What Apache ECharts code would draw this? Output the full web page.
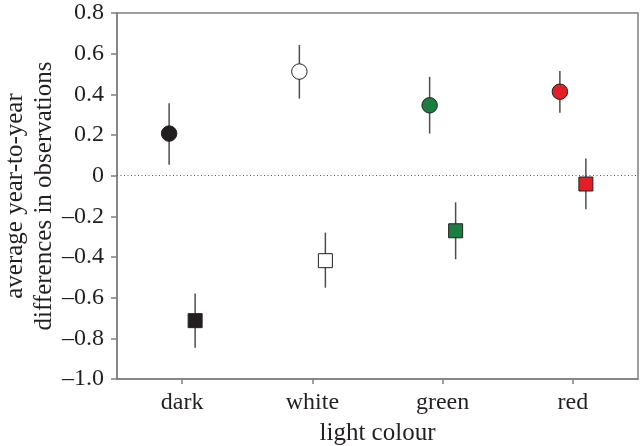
<!DOCTYPE html>
<html>
<head>
<meta charset="utf-8">
<script src="https://cdn.jsdelivr.net/npm/echarts@6/dist/echarts.min.js"></script>
<style>
html,body{margin:0;padding:0;background:#fff;}
#chart{width:640px;height:446px;}
</style>
</head>
<body>
<div id="chart"></div>
<script>
// ---- data ----
const categories = ['dark', 'white', 'green', 'red'];
const circleMean = [0.207, 0.512, 0.346, 0.413];
const circleLow  = [0.054, 0.379, 0.207, 0.310];
const circleHigh = [0.356, 0.643, 0.486, 0.515];
const squareMean = [-0.713, -0.418, -0.271, -0.041];
const squareLow  = [-0.846, -0.551, -0.411, -0.165];
const squareHigh = [-0.580, -0.280, -0.131, 0.084];
const yTicks = [-1.0, -0.8, -0.6, -0.4, -0.2, 0, 0.2, 0.4, 0.6, 0.8];

// ---- styling ----
const pointColours = ['#231f20', '#ffffff', '#1b7d3f', '#e31e26'];
const FONT = '"Liberation Serif", "Times New Roman", serif';
const TXT = '#231f20';
const AX = '#808080';
const DODGE = 13;

const chart = echarts.init(document.getElementById('chart'), null, {renderer: 'canvas'});

function errorSeries(low, high, off) {
  return {
    type: 'custom',
    z: 1,
    silent: true,
    data: categories.map((c, i) => [i, low[i], high[i]]),
    encode: {x: 0, y: [1, 2]},
    renderItem: function (params, api) {
      const i = api.value(0);
      const a = api.coord([i, api.value(1)]);
      const b = api.coord([i, api.value(2)]);
      return {
        type: 'line',
        shape: {x1: a[0] + off, y1: a[1], x2: b[0] + off, y2: b[1]},
        style: {stroke: '#4d4d4d', lineWidth: 1.5}
      };
    }
  };
}

function pointData(vals) {
  return vals.map((v, i) => ({
    value: [i, v],
    itemStyle: {color: pointColours[i]}
  }));
}

const option = {
  animation: false,
  backgroundColor: '#ffffff',
  grid: {
    left: 117, right: 2, top: 13, bottom: 67,
    containLabel: false,
    outerBoundsMode: 'none',
    show: true, borderColor: AX, borderWidth: 1.5, backgroundColor: 'transparent'
  },
  xAxis: {
    type: 'category',
    data: categories,
    boundaryGap: true,
    name: 'light colour',
    nameLocation: 'middle',
    nameGap: 42,
    nameMoveOverlap: false,
    nameTextStyle: {fontFamily: FONT, fontSize: 25, color: TXT},
    axisLine: {show: true, onZero: false, lineStyle: {color: AX, width: 1.5}},
    axisTick: {show: true, alignWithLabel: true, length: 5, lineStyle: {color: AX, width: 1.5}},
    axisLabel: {fontFamily: FONT, fontSize: 24, color: TXT, margin: 12},
    splitLine: {show: false}
  },
  yAxis: {
    type: 'value',
    min: -1.0,
    max: 0.8,
    interval: 0.2,
    name: 'average year-to-year\ndifferences in observations',
    nameLocation: 'middle',
    nameRotate: 90,
    nameGap: 58,
    nameMoveOverlap: false,
    nameTextStyle: {fontFamily: FONT, fontSize: 25, color: TXT, lineHeight: 29},
    axisLine: {show: true, onZero: false, lineStyle: {color: AX, width: 1.5}},
    axisTick: {show: true, length: 6, lineStyle: {color: AX, width: 1.5}},
    axisLabel: {
      fontFamily: FONT, fontSize: 24, color: TXT, margin: 13,
      formatter: function (v) {
        const r = Math.round(v * 10) / 10;
        if (r === 0) return '0';
        const s = Math.abs(r).toFixed(1);
        return r < 0 ? '\u2013' + s : s;
      }
    },
    splitLine: {show: false}
  },
  series: [
    errorSeries(circleLow, circleHigh, -DODGE),
    errorSeries(squareLow, squareHigh, DODGE),
    {
      type: 'scatter',
      z: 3,
      symbol: 'circle',
      symbolSize: 15.5,
      symbolOffset: [-DODGE, 0],
      itemStyle: {borderColor: '#222', borderWidth: 1, opacity: 1},
      data: pointData(circleMean),
      markLine: {
        silent: true,
        symbol: 'none',
        label: {show: false},
        lineStyle: {type: [1, 2.5], color: '#555', width: 1},
        data: [{yAxis: 0}]
      }
    },
    {
      type: 'scatter',
      z: 3,
      symbol: 'rect',
      symbolSize: 14,
      symbolOffset: [DODGE, 0],
      itemStyle: {borderColor: '#222', borderWidth: 1, opacity: 1},
      data: pointData(squareMean)
    }
  ]
};
chart.setOption(option);
</script>
</body>
</html>
